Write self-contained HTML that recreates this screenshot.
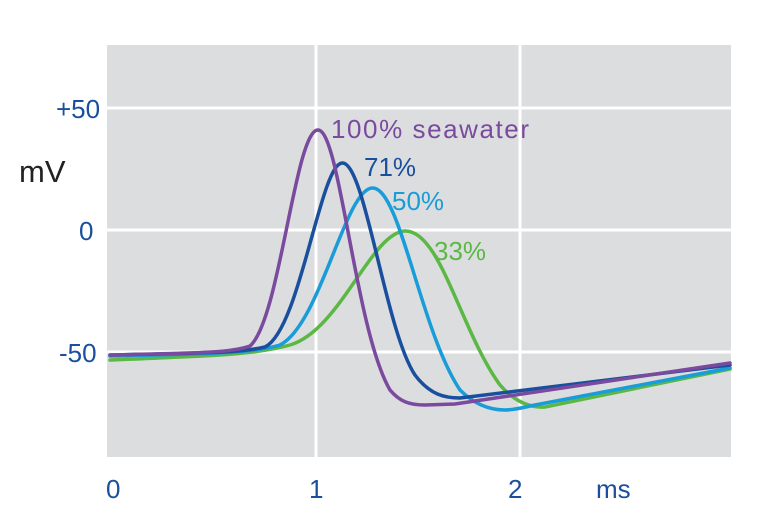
<!DOCTYPE html>
<html><head><style>
body{margin:0;background:#fff;width:764px;height:516px;overflow:hidden}
svg{display:block}
text{font-family:"Liberation Sans",sans-serif}
</style></head><body>
<svg width="764" height="516" viewBox="0 0 764 516">
<rect x="107" y="45" width="624" height="412" fill="#dcdddf"/>
<g stroke="#fff" stroke-width="3">
<line x1="107" y1="108" x2="731" y2="108"/>
<line x1="107" y1="230" x2="731" y2="230"/>
<line x1="107" y1="352" x2="731" y2="352"/>
<line x1="316" y1="45" x2="316" y2="457"/>
<line x1="520" y1="45" x2="520" y2="457"/>
</g>
<g fill="none" stroke-width="3.5" stroke-linecap="round">
<path stroke="#5bb845" d="M110,360 C200,356 250,356 290,345 C340,330 370,235 404,231 C440,228 460,330 500,385 C515,402 530,408 545,407 L730,369"/>
<path stroke="#1a9cd8" d="M110,356 C200,354 250,354 280,345 C320,325 345,190 372,188 C400,186 420,330 460,390 C475,405 490,410 505,410 C515,410 525,407 535,405 L730,368"/>
<path stroke="#1a4f9e" d="M110,355 C200,353 240,353 265,347 C300,330 320,165 342,163 C365,161 385,330 415,375 C430,395 445,398 460,398 L730,365"/>
<path stroke="#7a4a9e" d="M110,355 C200,353 230,353 250,346 C280,320 295,130 318,130 C340,130 355,330 390,390 C400,402 410,405 425,405 L455,404 L730,363"/>
</g>
<g font-size="26">
<text x="331" y="138" fill="#7a4a9e" textLength="198">100% seawater</text>
<text x="364" y="176" fill="#1a4f9e">71%</text>
<text x="392" y="210" fill="#1a9cd8">50%</text>
<text x="434" y="260" fill="#5bb845">33%</text>
</g>
<g font-size="26" fill="#1a4f9e">
<text x="56" y="118">+50</text>
<text x="79" y="240">0</text>
<text x="59" y="362">-50</text>
<text x="106" y="498">0</text>
<text x="309" y="498">1</text>
<text x="508" y="498">2</text>
<text x="596" y="498">ms</text>
</g>
<text x="19" y="182" font-size="31" fill="#222">mV</text>
</svg>
</body></html>
